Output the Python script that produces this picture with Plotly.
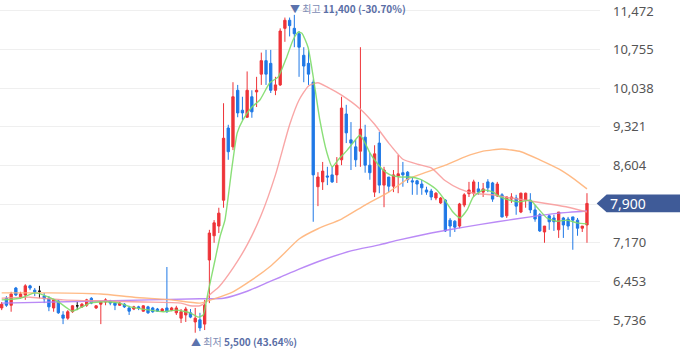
import plotly.graph_objects as go

# ---------------- data (daily OHLC, KRW) ----------------
opens = [5960, 6140, 6010, 6330, 6160, 6200, 6370, 6290, 6270, 6180,
         6140, 5960, 6090, 5830, 5770, 5890, 6000, 5980, 6010, 6140,
         5960, 6030, 6070, 6090, 6050, 6010, 6030, 5960, 5940, 5980,
         5900, 5980, 5960, 5940, 5900, 5960, 5920, 5870, 5770, 5830,
         5870, 5700, 5740, 5660, 6850, 7300, 7480, 7960, 9300, 8950,
         10000, 9630, 9500, 9880, 9970, 10300, 10550, 10500, 10000, 10100,
         11150, 11300, 11150, 11050, 10650, 10500, 10150, 8210, 8300, 8410,
         8430, 8430, 8710, 9560, 9080, 8950, 8870, 9130, 8610, 8110,
         9020, 8240, 8390, 8220, 8410, 8470, 8480, 8320, 8320, 8260,
         8150, 8130, 8000, 7910, 7960, 7590, 7570, 7480, 7870, 8080,
         8090, 8170, 8110, 8300, 8280, 8040, 8060, 7670, 7980, 8000,
         7740, 7960, 7960, 7780, 7690, 7370, 7670, 7630, 7410, 7630,
         7610, 7650, 7590, 7440, 7500]
highs = [6070, 6180, 6260, 6350, 6260, 6400, 6390, 6330, 6370, 6240,
         6180, 6130, 6110, 5900, 5920, 6010, 6070, 6050, 6130, 6160,
         6010, 6090, 6140, 6110, 6070, 6070, 6050, 6000, 6000, 6000,
         6010, 6000, 5980, 5960, 5960, 6720, 5980, 6000, 5940, 5980,
         5940, 5960, 5870, 6110, 7410, 7590, 7820, 9760, 9360, 10150,
         10100, 9880, 10350, 10000, 10250, 10700, 10750, 10750, 10250, 11150,
         11350, 11350, 11400, 11100, 10800, 10750, 10200, 8480, 8670, 8580,
         8580, 8760, 9880, 9730, 9410, 9080, 10800, 9360, 8840, 8980,
         9230, 8580, 8390, 8520, 8800, 8670, 8500, 8390, 8340, 8340,
         8210, 8170, 8110, 8020, 7980, 7630, 7590, 7910, 8090, 8300,
         8340, 8300, 8280, 8350, 8300, 8300, 8090, 8030, 8090, 8060,
         8100, 8100, 8090, 7870, 7720, 7480, 7690, 7690, 7740, 7650,
         7650, 7650, 7630, 7480, 8090]
lows = [5920, 5980, 5890, 6180, 6130, 6110, 6290, 6180, 6140, 6050,
        5900, 5890, 5850, 5660, 5740, 5870, 5920, 5960, 5980, 6030,
        5940, 5660, 6010, 6010, 5920, 6000, 5960, 5830, 5920, 5920,
        5890, 5850, 5870, 5890, 5890, 5870, 5900, 5830, 5680, 5700,
        5770, 5500, 5530, 5550, 6050, 7170, 7350, 7820, 8710, 8890,
        9500, 9450, 9490, 9490, 9690, 10100, 10100, 9950, 9910, 10080,
        10900, 11000, 10800, 10250, 10150, 10100, 7560, 7850, 8150, 8240,
        8280, 8280, 8610, 9020, 8520, 8580, 8580, 8470, 8340, 8020,
        8090, 7830, 8110, 8110, 8090, 8210, 8280, 8060, 8060, 8060,
        8060, 7960, 7960, 7890, 7370, 7280, 7370, 7440, 7830, 8020,
        8020, 8060, 8020, 8110, 7930, 8020, 7640, 7630, 7910, 7690,
        7720, 7820, 7720, 7560, 7370, 7170, 7410, 7390, 7260, 7260,
        7410, 7040, 7300, 7370, 7170]
closes = [6030, 6010, 6220, 6200, 6220, 6370, 6330, 6260, 6270, 6130,
          5980, 6110, 5870, 5770, 5890, 6000, 6000, 6030, 6110, 6050,
          6000, 6070, 6110, 6050, 6010, 6050, 5980, 5900, 5980, 5960,
          6000, 5870, 5890, 5900, 5940, 5890, 5960, 5960, 5890, 5940,
          5790, 5770, 5590, 6010, 7350, 7540, 7720, 9110, 8860, 9880,
          9580, 9580, 10000, 9600, 10000, 10550, 10300, 10000, 10100, 11100,
          11300, 11200, 11050, 10800, 10450, 10300, 8430, 8390, 8500, 8390,
          8300, 8610, 9670, 9210, 9020, 8710, 9280, 8610, 8470, 8820,
          8240, 8520, 8220, 8430, 8450, 8430, 8340, 8300, 8260, 8190,
          8110, 8020, 8090, 8000, 7390, 7480, 7460, 7890, 8060, 8150,
          8300, 8110, 8170, 8190, 7980, 8260, 7650, 8020, 8020, 7850,
          8090, 8090, 7780, 7610, 7390, 7480, 7560, 7560, 7740, 7500,
          7480, 7590, 7440, 7480, 7900]

# moving-average lines (x = trading-day index, y = KRW)
ma5_x = [0, 4, 7, 10, 12.4, 13.8, 14.9, 16.6, 18.7, 20.8, 23, 25, 27.2, 31.4, 34.2,
         37.1, 39.9, 41.6, 42.7, 43.7, 45.2, 46.3, 47.3, 48.8, 49.9, 51.1, 53, 54.7,
         56.8, 58.6, 60.4, 61.7, 62.8, 63.6, 64.9, 66, 67.4, 68.9, 70, 71.3, 73.2,
         74.4, 75.9, 77, 78, 79.5, 80.8, 82.3, 84.4, 86.5, 88.6, 90.1, 92.2, 93.9,
         95.6, 97.1, 98.6, 99.9, 102, 104.1, 105.6, 107.7, 109.8, 112, 113.4, 115.5,
         117.6, 119.8, 121.9, 124]
ma5_y = [6110, 6140, 6240, 6160, 6050, 5960, 5900, 5960, 6050, 6070, 6070, 6050, 5980,
         5920, 5890, 5920, 5870, 5790, 5830, 6240, 6850, 7300, 7590, 8580, 9210, 9450,
         9690, 9820, 10140, 10250, 10620, 10930, 11080, 11060, 10800, 10250, 9450, 8840,
         8580, 8710, 8890, 9020, 9170, 9020, 8840, 8650, 8520, 8430, 8390, 8390, 8350,
         8280, 8150, 7960, 7740, 7630, 7780, 8020, 8150, 8110, 8020, 7960, 7930, 7960,
         7830, 7630, 7570, 7590, 7540, 7520]
ma20_x = [0, 6, 13, 21, 30, 38, 40, 42, 43, 44, 46, 49, 52, 55, 58, 61, 63, 65, 67, 69,
          72, 76, 79, 82, 85, 88, 91, 94, 97, 100, 104, 108, 112, 116, 120, 124]
ma20_y = [6140, 6160, 6110, 6090, 6070, 6050, 6000, 6000, 6050, 6200, 6350, 6700, 7130,
          7690, 8430, 9360, 9820, 10080, 10140, 10060, 9910, 9650, 9370, 9020, 8720,
          8630, 8560, 8320, 8170, 8090, 8060, 8000, 7945, 7890, 7830, 7740]
ma60_x = [0, 10, 21, 28, 36, 42, 45, 49, 53, 57, 59, 63, 67, 72, 77, 82, 86, 90, 94,
          98, 102, 106, 110, 114, 118, 121, 124]
ma60_y = [6240, 6240, 6220, 6160, 6110, 6050, 6130, 6260, 6480, 6740, 6900, 7240, 7430,
          7610, 7870, 8110, 8350, 8480, 8610, 8760, 8870, 8910, 8860, 8710, 8540, 8370,
          8170]
ma120_x = [0, 21, 42, 47, 52, 56, 59, 63, 68, 74, 80, 84, 91, 98, 105, 112, 118, 124]
ma120_y = [6050, 6090, 6130, 6140, 6270, 6420, 6530, 6680, 6850, 7020, 7130, 7220, 7350,
           7460, 7560, 7650, 7720, 7760]

tick_vals = [11472, 10755, 10038, 9321, 8604, 7887, 7170, 6453, 5736]
tick_text = ["11,472", "10,755", "10,038", "9,321", "8,604", "", "7,170", "6,453", "5,736"]

last_price = 7900
high_idx, high_val, high_pct = 62, 11400, "-30.70%"
low_idx, low_val, low_pct = 41, 5500, "43.64%"

# ---------------- figure ----------------
RED = "#ee3338"
BLUE = "#1f78e6"

idx = list(range(len(closes)))
doji = [i for i in idx if opens[i] == closes[i]]
norm = [i for i in idx if opens[i] != closes[i]]

fig = go.Figure()

for xs, ys, col in [(ma120_x, ma120_y, "rgba(178,125,245,0.9)"),
                    (ma60_x, ma60_y, "rgba(255,178,120,0.9)"),
                    (ma20_x, ma20_y, "rgba(248,150,150,0.85)"),
                    (ma5_x, ma5_y, "rgba(125,220,105,0.9)")]:
    fig.add_trace(go.Scatter(x=xs, y=ys, mode="lines",
                             line=dict(color=col, width=1.4, shape="spline", smoothing=0.5),
                             hoverinfo="skip", showlegend=False))

fig.add_trace(go.Candlestick(
    x=norm,
    open=[opens[i] for i in norm], high=[highs[i] for i in norm],
    low=[lows[i] for i in norm], close=[closes[i] for i in norm],
    increasing=dict(line=dict(color=RED, width=1), fillcolor=RED),
    decreasing=dict(line=dict(color=BLUE, width=1), fillcolor=BLUE),
    whiskerwidth=0, showlegend=False))
fig.add_trace(go.Candlestick(
    x=doji,
    open=[opens[i] for i in doji], high=[highs[i] for i in doji],
    low=[lows[i] for i in doji], close=[closes[i] for i in doji],
    increasing=dict(line=dict(color="#111111", width=1), fillcolor="#111111"),
    decreasing=dict(line=dict(color="#111111", width=1), fillcolor="#111111"),
    whiskerwidth=0, showlegend=False))

# current price tag
fig.add_shape(type="path", xref="paper", yref="y",
              path=f"M 0.9945,{last_price} L 1.011,{last_price+165} L 1.1333,{last_price+165} "
                   f"L 1.1333,{last_price-165} L 1.011,{last_price-165} Z",
              fillcolor="#3f5b98", line=dict(width=0), layer="above")
fig.add_annotation(xref="paper", yref="y", x=1.013, y=last_price, xanchor="left",
                   yanchor="middle", text=f"{last_price:,}", showarrow=False,
                   font=dict(color="white", size=14, family="Noto Sans"))

# high / low labels
fig.add_annotation(x=high_idx, y=1.0, yref="paper", xanchor="left", yanchor="top",
                   xshift=-6, yshift=1, showarrow=False,
                   text=(f"<span style='color:#5c73ad'>▼</span> "
                         f"<span style='color:#7d8cb5'>최고</span> "
                         f"<b style='color:#5a6ea6'>{high_val:,} ({high_pct})</b>"),
                   font=dict(size=10, family="Noto Sans CJK KR"))
fig.add_annotation(x=low_idx, y=0.0, yref="paper", xanchor="left", yanchor="bottom",
                   xshift=-6, yshift=7, showarrow=False,
                   text=(f"<span style='color:#5c73ad'>▲</span> "
                         f"<span style='color:#7d8cb5'>최저</span> "
                         f"<b style='color:#5a6ea6'>{low_val:,} ({low_pct})</b>"),
                   font=dict(size=10, family="Noto Sans CJK KR"))

fig.update_layout(
    width=680, height=358,
    margin=dict(l=0, r=80, t=0, b=0),
    paper_bgcolor="white", plot_bgcolor="white",
    showlegend=False,
    xaxis=dict(range=[-0.36, 126.76], showgrid=False, zeroline=False,
               showticklabels=False, rangeslider=dict(visible=False), fixedrange=True),
    yaxis=dict(range=[5031, 11676], side="right", tickvals=tick_vals, ticktext=tick_text,
               showgrid=True, gridcolor="#efefef", gridwidth=1, zeroline=False,
               ticks="", ticklabelstandoff=12,
               tickfont=dict(size=13, color="#555555", family="Noto Sans")),
)

fig.write_html("out.html", config={"displayModeBar": False},
               post_script="document.body.style.margin='0';document.body.style.overflow='hidden';")
